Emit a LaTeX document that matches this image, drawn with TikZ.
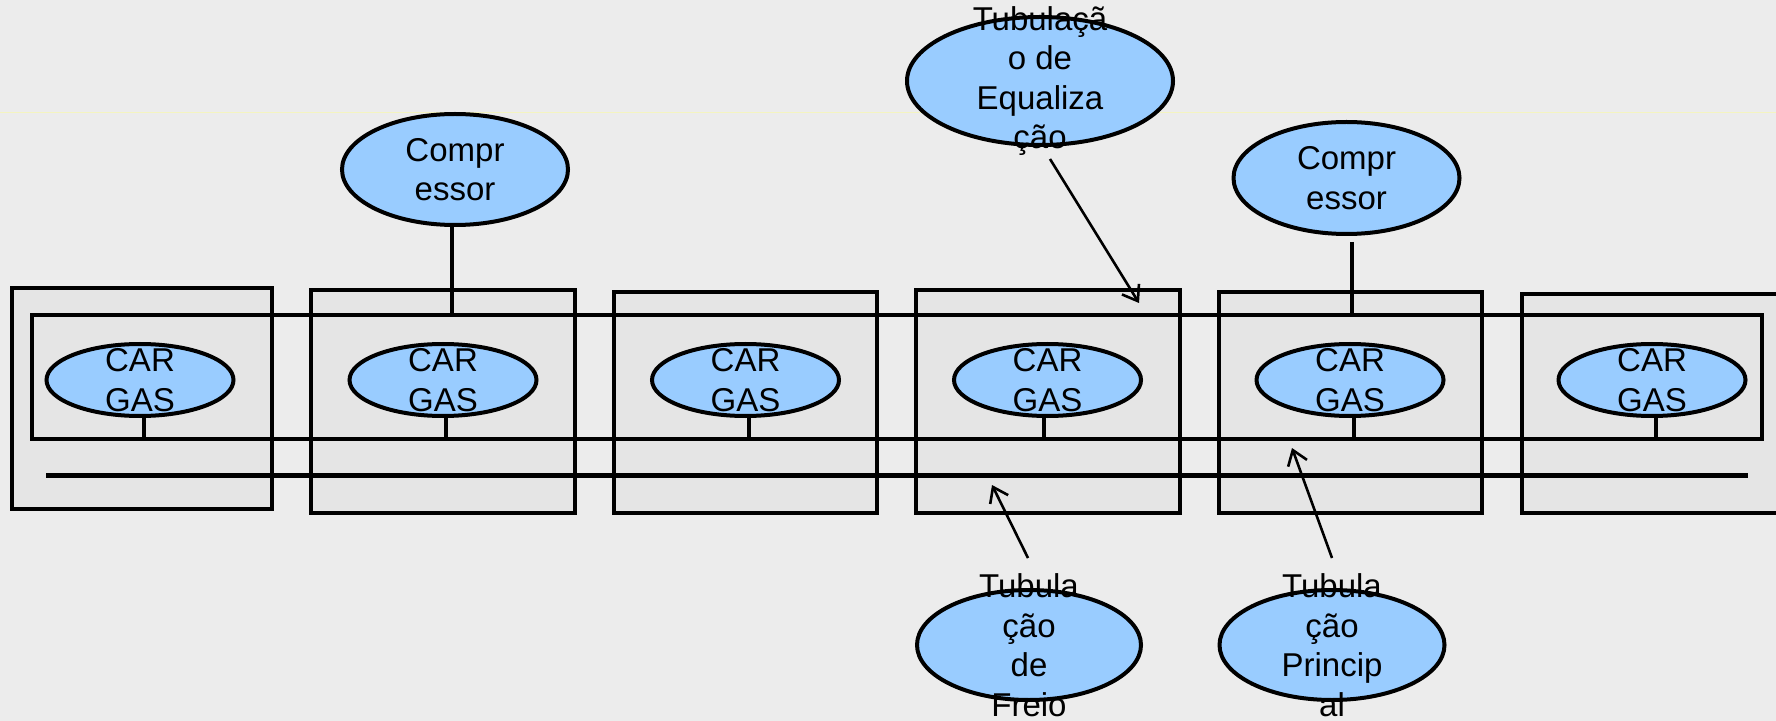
\documentclass[tikz,border=0pt]{standalone}
\usepackage{fontspec}
\setmainfont{Liberation Sans}
\usetikzlibrary{shapes.geometric,arrows.meta,calc}
\definecolor{bgc}{HTML}{ECECEC}
\definecolor{boxc}{HTML}{E5E5E5}
\definecolor{blobc}{HTML}{99CCFF}
\definecolor{guidec}{HTML}{F4F4C0}
\tikzset{
  carbox/.style={draw=black, fill=boxc, line width=2pt},
  pipe/.style={draw=black, line width=2pt},
  brakepipe/.style={draw=black, line width=2.5pt},
  blob/.style={ellipse, draw=black, fill=blobc, line width=2pt, inner sep=0pt},
  carblob/.style={blob, minimum width=93.5pt, minimum height=36pt},
  bigblob/.style={blob, minimum width=113pt, minimum height=55.5pt},
  lbl/.style={align=center, inner sep=0pt, font=\fontsize{16.5}{19.75}\selectfont},
  ptr/.style={draw=black, line width=1.3pt, -{Straight Barb[length=7pt,width=10pt,line width=1.3pt]}}
}
\begin{document}
\begin{tikzpicture}[x=0.5pt,y=-0.5pt]
\clip (0,0) rectangle (1776,721);
\fill[bgc] (0,0) rectangle (1776,721);
\draw[guidec, line width=0.5pt] (0,113) -- (1776,113);
% car frames
\draw[carbox] (12,288) rectangle (272,509);
\draw[carbox] (311,290) rectangle (575,513);
\draw[carbox] (614,292) rectangle (877,513);
\draw[carbox] (916,290) rectangle (1180,513);
\draw[carbox] (1219,292) rectangle (1482,513);
\draw[carbox] (1522,294) rectangle (1800,513);
% equalization loop and brake pipe
\coordinate (LT) at (32,315);
\coordinate (RB) at (1762,439);
\draw[pipe] (LT) rectangle (RB);
\coordinate (BL) at (46,475);
\coordinate (BR) at (1748,475);
\draw[brakepipe] (BL) -- (BR);
% car ellipses
\node[carblob, label={[lbl]center:CAR\\GAS}] (car1) at (140,380) {};
\node[carblob, label={[lbl]center:CAR\\GAS}] (car2) at (443,380) {};
\node[carblob, label={[lbl]center:CAR\\GAS}] (car3) at (745.5,380) {};
\node[carblob, label={[lbl]center:CAR\\GAS}] (car4) at (1047.5,380) {};
\node[carblob, label={[lbl]center:CAR\\GAS}] (car5) at (1350,380) {};
\node[carblob, label={[lbl]center:CAR\\GAS}] (car6) at (1652,380) {};
\draw[pipe] ([xshift=2pt]car1.south) -- ([xshift=2pt]car1.south |- RB);
\draw[pipe] ([xshift=1.5pt]car2.south) -- ([xshift=1.5pt]car2.south |- RB);
\draw[pipe] ([xshift=1.75pt]car3.south) -- ([xshift=1.75pt]car3.south |- RB);
\draw[pipe] ([xshift=-1.75pt]car4.south) -- ([xshift=-1.75pt]car4.south |- RB);
\draw[pipe] ([xshift=2pt]car5.south) -- ([xshift=2pt]car5.south |- RB);
\draw[pipe] ([xshift=2pt]car6.south) -- ([xshift=2pt]car6.south |- RB);
% compressors
\node[bigblob, label={[lbl]center:Compr\\essor}] (comp1) at (455,169.5) {};
\node[bigblob, minimum height=56pt, label={[lbl]center:Compr\\essor}] (comp2) at (1346.5,178) {};
\draw[pipe] ([xshift=-1.5pt]comp1.south) -- ([xshift=-1.5pt]comp1.south |- LT);
\draw[pipe] ([xshift=2.75pt,yshift=-3pt]comp2.south) -- ([xshift=2.75pt]comp2.south |- LT);
% pipe labels
\node[blob, minimum width=133pt, minimum height=64pt,
  label={[lbl]center:Tubulaçã\\o de\\Equaliza\\ção}] (eq) at (1040,81) {};
\node[bigblob, minimum width=112pt, minimum height=55pt,
  label={[lbl]center:Tubula\\ção\\de\\Freio}] (freio) at (1029,645) {};
\node[bigblob, minimum width=112.5pt, minimum height=55pt,
  label={[lbl]center:Tubula\\ção\\Princip\\al}] (princ) at (1332,645) {};
\coordinate (eqtip) at (1139,303);
\coordinate (freiotip) at (992,485);
\coordinate (princtip) at (1292,448);
\draw[ptr] ($(eq.south)+(10,12)$) -- (eqtip);
\draw[ptr] ($(freio.north)+(-1,-30)$) -- (freiotip);
\draw[ptr] ($(princ.north)+(0,-30)$) -- (princtip);
\end{tikzpicture}
\end{document}
